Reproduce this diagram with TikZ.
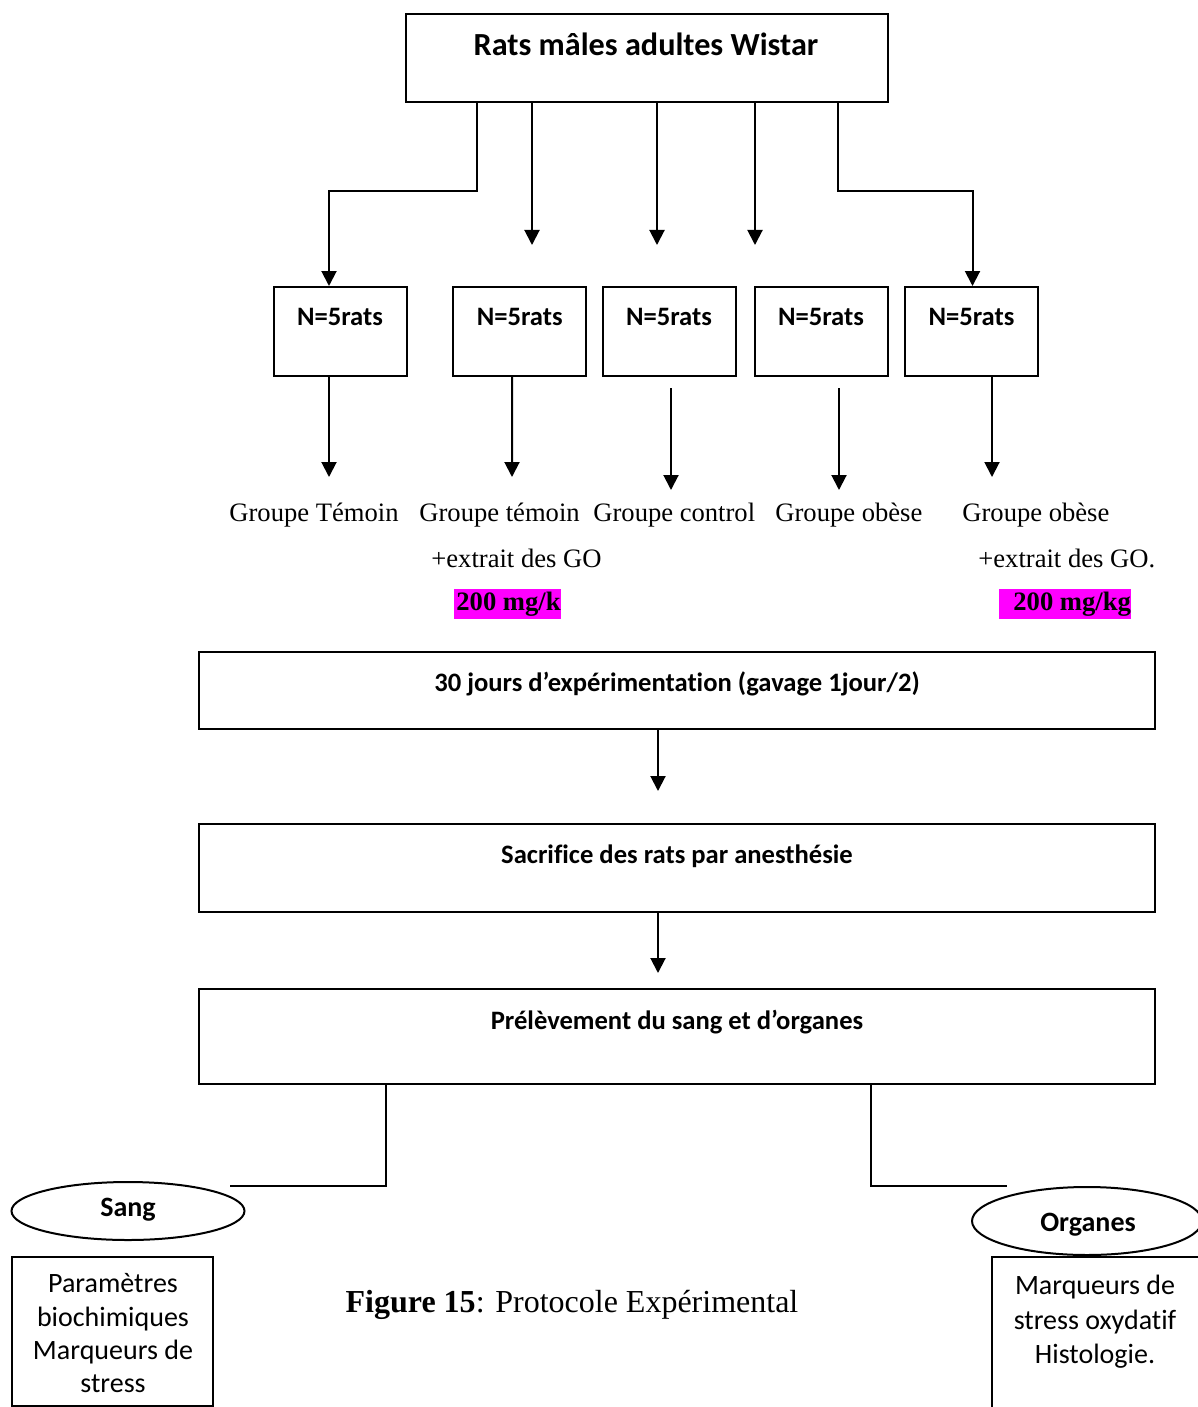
\documentclass[tikz,border=0pt]{standalone}
\usepackage{fontspec}
\setmainfont{Liberation Serif}
\newfontfamily\calib[Ligatures=NoCommon]{Carlito}
\usetikzlibrary{arrows.meta,shapes.geometric,calc}
\definecolor{mag}{RGB}{255,0,255}
\newcommand\fTitle{\calib\bfseries\fontsize{16.1}{19}\selectfont}
\newcommand\fBold{\calib\bfseries\fontsize{13.3}{16}\selectfont}
\newcommand\fCal{\calib\fontsize{14}{17}\selectfont}
\newcommand\fCalB{\calib\bfseries\fontsize{14}{17}\selectfont}
\newcommand\fTimes{\fontsize{13.3}{16}\selectfont}
\newcommand\fCap{\fontsize{16}{19}\selectfont}
\begin{document}
\begin{tikzpicture}[x=0.5pt,y=-0.5pt,
  box/.style={draw,line width=1pt,inner sep=0pt,rectangle},
  ln/.style={line width=1pt},
  arr/.style={line width=1pt,-{Triangle[width=7.5pt,length=7.5pt]}},
  txt/.style={anchor=base,inner sep=0pt},
  ltxt/.style={anchor=base west,inner sep=0pt,font=\fTimes},
  pink/.style={fill=mag,inner sep=0pt,minimum height=15pt,anchor=west,font=\fTimes\bfseries}]
\useasboundingbox (0,0) rectangle (1198,1407);
\clip (0,0) rectangle (1198,1407);

% top box
\node[box,minimum width=241pt,minimum height=44pt] (top) at (647,58) {};
\node[txt,font=\fTitle] (toptxt) at (646,56) {Rats mâles adultes Wistar};

% group boxes
\foreach \n/\cx in {1/340,2/519.7,3/669,4/821,5/971.5}{
  \node[box,minimum width=66.5pt,minimum height=44.5pt] (g\n) at (\cx,331.5) {};
  \node[txt,font=\fBold] (n\n) at (\cx,325) {N=5rats};
}

% arrows from top box
\coordinate (c2) at (532,245);
\coordinate (c3) at (657,245);
\coordinate (c4) at (755,245);
\draw[arr] ([xshift=-85pt]top.south) |- ($(g1.north)+(-11,-95)$) -- ([xshift=-5.5pt]g1.north);
\draw[arr] ([xshift=-57.5pt]top.south) -- (c2);
\draw[arr] ([xshift=5pt]top.south) -- (c3);
\draw[arr] ([xshift=54pt]top.south) -- (c4);
\draw[arr] ([xshift=95.5pt]top.south) |- ($(g5.north)+(1,-95)$) -- ([xshift=0.5pt]g5.north);

% arrows below group boxes
\coordinate (d1) at (329,477);
\coordinate (d2) at (512,477);
\coordinate (e3) at (671,388);
\coordinate (d3) at (671,490);
\coordinate (e4) at (839,388);
\coordinate (d4) at (839,490);
\coordinate (d5) at (992,477);
\draw[arr] ([xshift=-5.5pt]g1.south) -- (d1);
\draw[arr] ([xshift=-3.85pt]g2.south) -- (d2);
\draw[arr] (e3) -- (d3);
\draw[arr] (e4) -- (d4);
\draw[arr] ([xshift=10.25pt]g5.south) -- (d5);

% group labels
\node[ltxt] (l1) at (229,521.5) {Groupe Témoin};
\node[ltxt] (l2) at (419,521.5) {Groupe témoin};
\node[ltxt] (l3) at (593,521.5) {Groupe control};
\node[ltxt] (l4) at (775,521.5) {Groupe obèse};
\node[ltxt] (l5) at (962,521.5) {Groupe obèse};
\node[ltxt] (x2) at (431,567) {+extrait des GO};
\node[ltxt] (x5) at (978,567) {+extrait des GO.};
\node[pink,minimum width=52.5pt] (pk1) at (454,604) {\hspace*{1pt}200 mg/k};
\node[pink,minimum width=65.5pt] (pk2) at (999,604) {\hspace*{7pt}200 mg/kg};

% process boxes
\node[box,minimum width=477.75pt,minimum height=38.5pt] (exp) at (677,690.5) {};
\node[txt,font=\fBold] (exptxt) at (677,691) {30 jours d’expérimentation (gavage 1jour/2)};
\node[box,minimum width=477.75pt,minimum height=44pt] (sac) at (677,868) {};
\node[txt,font=\fBold] (sactxt) at (677,863) {Sacrifice des rats par anesthésie};
\node[box,minimum width=477.75pt,minimum height=47.5pt] (prel) at (677,1036.5) {};
\node[txt,font=\fBold] (preltxt) at (677,1029) {Prélèvement du sang et d’organes};

\coordinate (f1) at (658,791);
\coordinate (f2) at (658,973);
\draw[arr] ([xshift=-9.5pt]exp.south) -- (f1);
\draw[arr] ([xshift=-9.5pt]sac.south) -- (f2);

% bottom branches
\coordinate (h1) at (230,1186);
\coordinate (h2) at (1007,1186);
\draw[ln] ([xshift=-145.5pt]prel.south) |- (h1);
\draw[ln] ([xshift=97pt]prel.south) |- (h2);

% ellipses
\node[ellipse,draw,line width=1pt,inner sep=0pt,minimum width=116.5pt,minimum height=29pt] (sang) at (128,1211) {};
\node[txt,font=\fCalB] (sangtxt) at (128,1216) {Sang};
\node[ellipse,draw,line width=1pt,inner sep=0pt,minimum width=115pt,minimum height=34pt] (org) at (1087,1221) {};
\node[txt,font=\fCalB] (orgtxt) at (1088,1231) {Organes};

% result boxes
\node[box,minimum width=100.65pt,minimum height=74.5pt] (sbox) at (112.35,1331.5) {};
\node[txt,font=\fCal] (s1) at (113,1292) {Paramètres};
\node[txt,font=\fCal] (s2) at (113,1326) {biochimiques};
\node[txt,font=\fCal] (s3) at (113,1359) {Marqueurs de};
\node[txt,font=\fCal] (s4) at (113,1392) {stress};
\node[box,minimum width=114pt,minimum height=91.5pt] (obox) at (1106,1348.5) {};
\node[txt,font=\fCal] (o1) at (1095,1294) {Marqueurs de};
\node[txt,font=\fCal] (o2) at (1095,1329) {stress oxydatif};
\node[txt,font=\fCal] (o3) at (1095,1363) {Histologie.};

% caption
\node[txt,font=\fCap] (cap) at (572,1312) {\textbf{Figure 15}: Protocole Expérimental};
\end{tikzpicture}
\end{document}
